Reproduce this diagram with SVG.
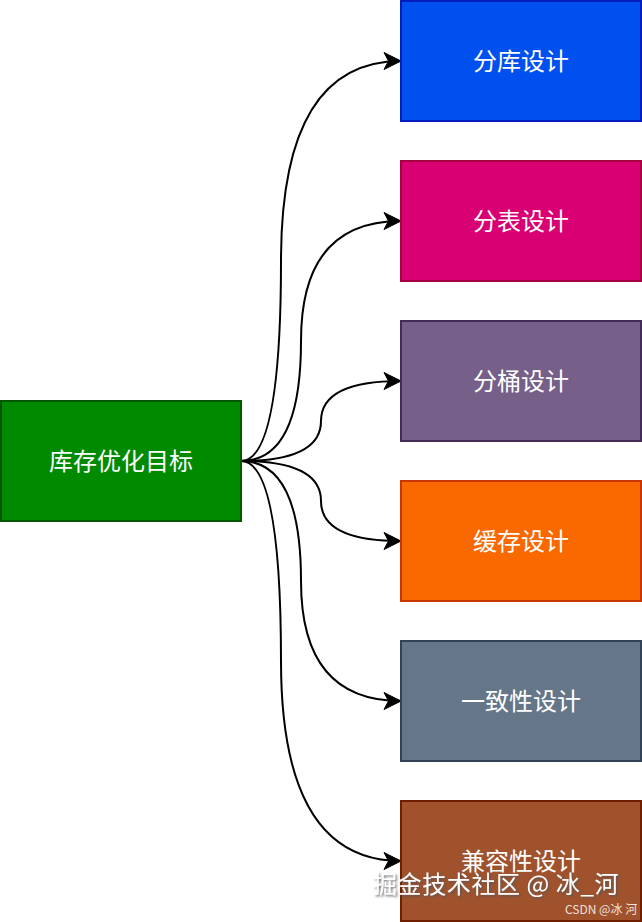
<svg xmlns="http://www.w3.org/2000/svg" width="642" height="922" viewBox="0 0 642 922">
<style>
.box{stroke-width:2}
.lbl{font-family:"Noto Sans CJK SC","Noto Sans",sans-serif;font-size:24px;fill:#ffffff;text-anchor:middle;dominant-baseline:central}
.edge{fill:none;stroke:#000000;stroke-width:2}
.wm{font-family:"Noto Sans CJK SC","Liberation Sans",sans-serif;fill:#ffffff}
</style>
<defs>
<marker id="arr" markerUnits="userSpaceOnUse" markerWidth="20" markerHeight="20" viewBox="-18 -9 20 18" refX="0" refY="0" orient="auto">
<path d="M0,0 L-17,-8.5 L-12.5,0 L-17,8.5 Z" fill="#000000" stroke="#000000" stroke-width="1"/>
</marker>
<filter id="sh" x="-10%" y="-30%" width="120%" height="160%">
<feDropShadow dx="1.5" dy="1.5" stdDeviation="0.8" flood-color="#555555" flood-opacity="0.9"/>
</filter>
</defs>
<g id="connectors">
<path class="edge" marker-end="url(#arr)" d="M241,461 Q281,461 281,261 Q281,61 401,61"/>
<path class="edge" marker-end="url(#arr)" d="M241,461 Q301,461 301,341 Q301,221 401,221"/>
<path class="edge" marker-end="url(#arr)" d="M241,461 Q321,461 321,421 Q321,381 401,381"/>
<path class="edge" marker-end="url(#arr)" d="M241,461 Q321,461 321,501 Q321,541 401,541"/>
<path class="edge" marker-end="url(#arr)" d="M241,461 Q301,461 301,581 Q301,701 401,701"/>
<path class="edge" marker-end="url(#arr)" d="M241,461 Q281,461 281,661 Q281,861 401,861"/>
</g>
<g id="node-goal">
<rect class="box" x="1" y="401" width="240" height="120" fill="#008a00" stroke="#005700"/>
<text class="lbl" x="121" y="459">库存优化目标</text>
</g>
<g id="node-db">
<rect class="box" x="401" y="1" width="240" height="120" fill="#0050ef" stroke="#001dbc"/>
<text class="lbl" x="521" y="59">分库设计</text>
</g>
<g id="node-table">
<rect class="box" x="401" y="161" width="240" height="120" fill="#d80073" stroke="#a50040"/>
<text class="lbl" x="521" y="219">分表设计</text>
</g>
<g id="node-bucket">
<rect class="box" x="401" y="321" width="240" height="120" fill="#76608a" stroke="#432d57"/>
<text class="lbl" x="521" y="379">分桶设计</text>
</g>
<g id="node-cache">
<rect class="box" x="401" y="481" width="240" height="120" fill="#fa6800" stroke="#c73500"/>
<text class="lbl" x="521" y="539">缓存设计</text>
</g>
<g id="node-consistency">
<rect class="box" x="401" y="641" width="240" height="120" fill="#647687" stroke="#314354"/>
<text class="lbl" x="521" y="699">一致性设计</text>
</g>
<g id="node-compat">
<rect class="box" x="401" y="801" width="240" height="120" fill="#a0522d" stroke="#6d1f00"/>
<text class="lbl" x="521" y="859">兼容性设计</text>
</g>
<g id="watermark">
<text class="wm" x="373" y="893" font-size="24" letter-spacing="0.6" filter="url(#sh)">掘金技术社区 @ 冰_河</text>
<text class="wm" x="565" y="914" font-size="12" fill-opacity="0.85">CSDN @冰 河</text>
</g>
</svg>
